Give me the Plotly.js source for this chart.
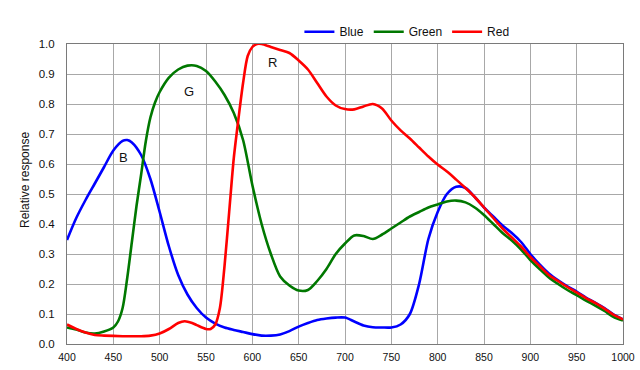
<!DOCTYPE html>
<html>
<head>
<meta charset="utf-8">
<script src="https://cdn.plot.ly/plotly-3.0.1.min.js"></script>
<style>html,body{margin:0;padding:0;background:#fff;}#chart{width:640px;height:370px;}</style>
</head>
<body>
<div id="chart"></div>
<script>
var blueX = [400,410,420,430,440,450,460,465,470,480,490,500,510,520,530,540,550,560,570,580,590,600,610,620,630,640,650,660,670,680,690,700,710,720,730,740,750,760,770,780,790,800,810,820,830,840,850,860,870,880,890,900,910,920,930,940,950,960,970,980,990,1000];
var blueY = [0.347,0.42,0.48,0.535,0.59,0.645,0.677,0.68,0.672,0.63,0.55,0.44,0.325,0.23,0.165,0.12,0.088,0.068,0.055,0.047,0.04,0.033,0.028,0.028,0.032,0.043,0.058,0.07,0.08,0.085,0.088,0.088,0.075,0.062,0.056,0.055,0.055,0.065,0.1,0.2,0.35,0.44,0.5,0.524,0.52,0.49,0.455,0.425,0.395,0.37,0.34,0.3,0.265,0.235,0.212,0.192,0.175,0.155,0.138,0.12,0.098,0.082];

var greenX = [400,410,420,430,440,450,455,460,465,470,475,480,485,490,495,500,510,520,530,540,550,560,570,580,590,600,610,620,630,640,650,660,670,680,690,700,710,720,730,740,750,760,770,780,790,800,810,820,830,840,850,860,870,880,890,900,910,920,930,940,950,960,970,980,990,1000];
var greenY = [0.055,0.048,0.038,0.035,0.042,0.055,0.075,0.12,0.22,0.34,0.46,0.565,0.675,0.755,0.805,0.84,0.888,0.915,0.928,0.927,0.91,0.875,0.83,0.77,0.68,0.53,0.4,0.3,0.225,0.195,0.178,0.18,0.21,0.25,0.3,0.335,0.362,0.36,0.35,0.365,0.385,0.405,0.425,0.44,0.455,0.465,0.475,0.478,0.472,0.455,0.43,0.4,0.37,0.345,0.315,0.28,0.25,0.222,0.2,0.18,0.163,0.145,0.128,0.11,0.09,0.078];

var redX = [400,410,420,430,440,460,480,490,500,510,520,527,535,540,550,555,560,565,570,575,580,585,590,595,600,605,610,620,630,640,650,660,670,680,690,700,710,720,730,740,750,760,770,780,790,800,810,820,830,840,850,860,870,880,890,900,910,920,930,940,950,960,970,980,990,1000];
var redY = [0.065,0.05,0.038,0.03,0.028,0.026,0.026,0.028,0.035,0.05,0.07,0.076,0.07,0.063,0.05,0.05,0.065,0.12,0.26,0.44,0.62,0.75,0.87,0.96,0.99,1.0,1.0,0.99,0.98,0.97,0.945,0.915,0.87,0.825,0.795,0.783,0.782,0.792,0.8,0.785,0.745,0.712,0.685,0.655,0.625,0.598,0.575,0.548,0.52,0.49,0.455,0.42,0.385,0.355,0.325,0.29,0.26,0.23,0.21,0.19,0.172,0.153,0.137,0.118,0.097,0.082];

var seriesNames = ["Blue","Green","Red"];
var seriesColors = ["#0000ff","#007800","#ff0000"];
var labelText = ["B","G","R"];
var labelX = [461,532,622];
var labelY = [0.623,0.843,0.937];
var xTicks = [400,450,500,550,600,650,700,750,800,850,900,950,1000];
var yTicks = [0,0.1,0.2,0.3,0.4,0.5,0.6,0.7,0.8,0.9,1.0];
var yTitle = "Relative response";

var FONT = 'Liberation Sans, Arial, sans-serif';
var xs = [blueX, greenX, redX];
var ys = [blueY, greenY, redY];
var traces = seriesNames.map(function(n,i){
  return {x: xs[i], y: ys[i], name: n, type: 'scatter', mode: 'lines',
    line: {color: seriesColors[i], width: 2.6, shape: 'spline', smoothing: 0.8}};
});

var annotations = labelText.map(function(t,i){
  return {x: labelX[i], y: labelY[i], text: t, showarrow: false,
    font: {family: FONT, size: 13, color: '#111'}};
});
annotations.push({xref: 'paper', yref: 'paper', x: -0.0755, y: 0.547, text: yTitle,
  textangle: -90, showarrow: false, xanchor: 'center', yanchor: 'middle',
  font: {family: FONT, size: 12, color: '#111'}});

var layout = {
  width: 640, height: 370,
  margin: {l: 67, r: 17, t: 44, b: 26},
  paper_bgcolor: '#fff', plot_bgcolor: '#fff',
  font: {family: FONT, size: 11, color: '#111'},
  showlegend: true,
  legend: {orientation: 'h', x: 0.418, xanchor: 'left', y: 1.041, yanchor: 'middle',
    font: {size: 12, color: '#111'}, bgcolor: 'rgba(0,0,0,0)', traceorder: 'normal'},
  xaxis: {range: [400, 1000], tickvals: xTicks, ticktext: xTicks.map(String),
    showgrid: true, gridcolor: '#a8a8a8', gridwidth: 1,
    showline: true, linecolor: '#7a7a7a', linewidth: 1, mirror: true,
    ticks: '', zeroline: false, ticklabelstandoff: 3, tickfont: {size: 10.5, color: '#111'}},
  yaxis: {range: [0, 1.0], tickvals: yTicks, tickformat: '.1f',
    showgrid: true, gridcolor: '#a8a8a8', gridwidth: 1,
    showline: true, linecolor: '#7a7a7a', linewidth: 1, mirror: true,
    ticks: '', zeroline: false, ticklabelstandoff: 9, tickfont: {size: 11.5, color: '#111'}},
  annotations: annotations
};

Plotly.newPlot('chart', traces, layout, {displayModeBar: false, staticPlot: true});
</script>
</body>
</html>
